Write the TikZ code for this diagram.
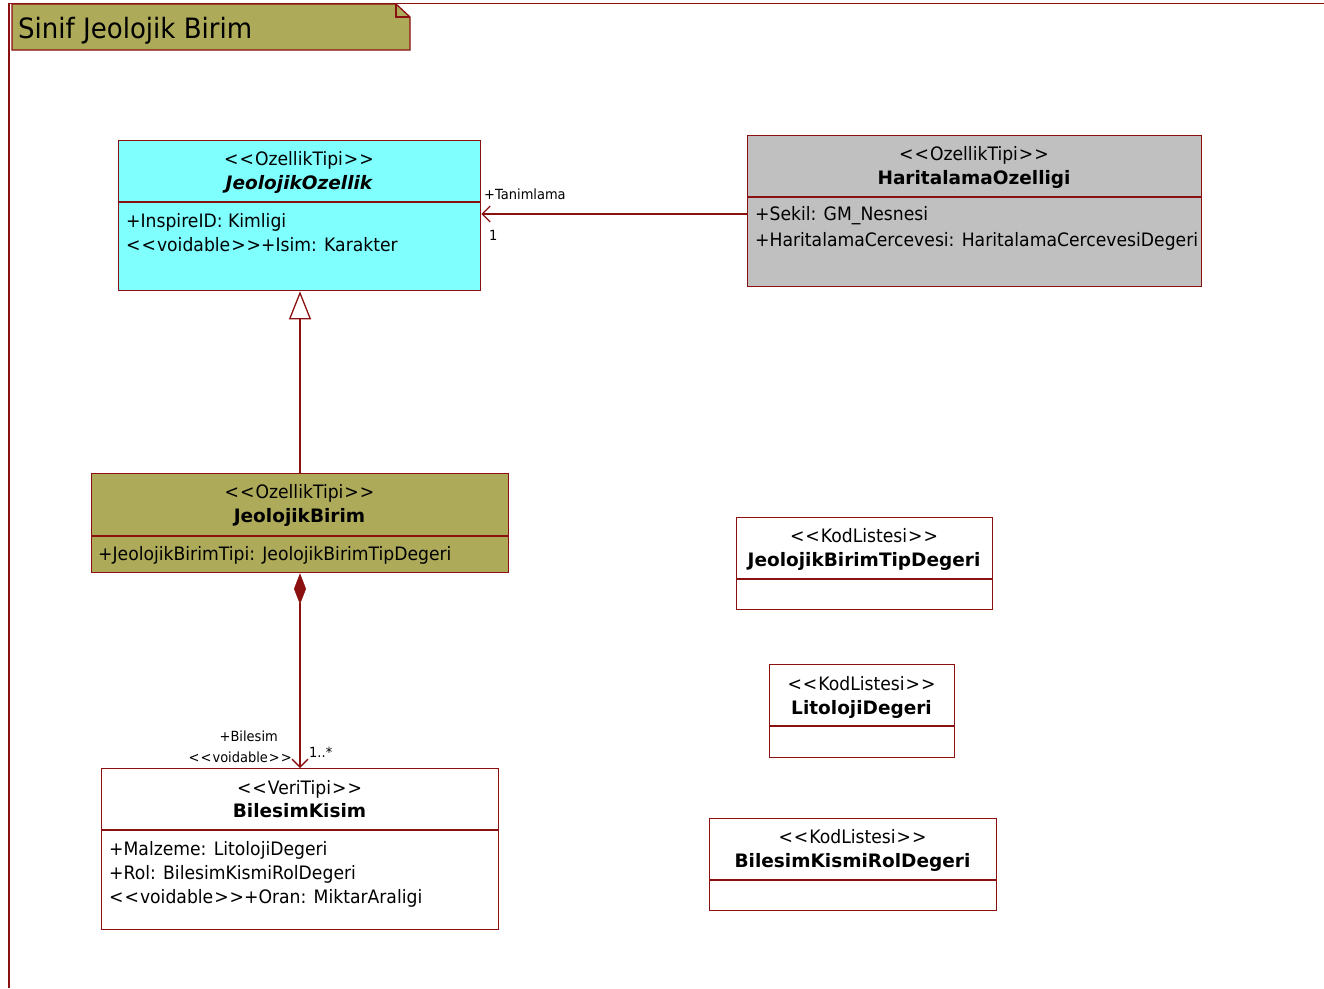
\documentclass[tikz,border=0pt]{standalone}
\usepackage{fontspec}
\setmainfont{DejaVu Sans}[FakeStretch=0.93]
\newfontfamily\bfam{DejaVu Sans}[FakeStretch=1.0]
\usetikzlibrary{arrows.meta}
\definecolor{lc}{RGB}{139,16,16}
\definecolor{olive}{RGB}{173,170,90}
\definecolor{cyanf}{RGB}{128,255,255}
\definecolor{grayf}{RGB}{192,192,192}
\newcommand\stL{<\kern1pt<\kern1pt}
\newcommand\stR{\kern1pt>\kern1pt>}
\tikzset{
  cls/.style={draw=lc, line width=1.3pt, anchor=north west, inner sep=0pt},
  sep/.style={draw=lc, line width=1.3pt},
  txt/.style={inner sep=0pt, anchor=base, font=\fontsize{18.5}{21}\selectfont},
  bold/.style={txt, font=\fontsize{18.5}{21}\bfam\bfseries},
  attr/.style={txt, anchor=base west},
  small/.style={inner sep=0pt, anchor=base west, font=\fontsize{14}{16}\selectfont},
  conn/.style={draw=lc, line width=1.3pt},
}
\begin{document}
\begin{tikzpicture}[x=1pt,y=-1pt]
\useasboundingbox (0,0) rectangle (1324,988);
% frame
\draw[lc, line width=1.3pt] (9,988) -- (9,3.5) -- (1324,3.5);
% title tab
\fill[olive] (12,4) -- (396,4) -- (410,17) -- (410,50) -- (12,50) -- cycle;
\draw[lc, line width=1.3pt] (12,4) -- (396,4) -- (410,17) -- (410,50) -- (12,50) -- cycle;
\draw[lc, line width=1.3pt] (396,4) -- (396,17) -- (410,17);
\node[inner sep=0pt, anchor=base west, font=\fontsize{28}{30}\selectfont] (title) at (18,38) {Sinif Jeolojik Birim};

% JeolojikOzellik
\node[cls, fill=cyanf, minimum width=362, minimum height=150] (jo) at (118,140) {};
\draw[sep] (118,202) -- (480,202);
\node[txt] (jos) at (299,165) {\stL OzellikTipi\stR};
\node[bold, font=\fontsize{18.5}{21}\bfam\bfseries\itshape] (jon) at (299,189) {JeolojikOzellik};
\node[attr] (joa1) at (126,227) {+InspireID: Kimligi};
\node[attr] (joa2) at (126,251) {\stL voidable\stR+Isim: Karakter};

% HaritalamaOzelligi
\node[cls, fill=grayf, minimum width=454, minimum height=151] (ho) at (747,135) {};
\draw[sep] (747,197) -- (1201,197);
\node[txt] (hos) at (974,160) {\stL OzellikTipi\stR};
\node[bold] (hon) at (974,184) {HaritalamaOzelligi};
\node[attr] (hoa1) at (755,220) {+Sekil: GM\_Nesnesi};
\node[attr] (hoa2) at (755,246) {+HaritalamaCercevesi: HaritalamaCercevesiDegeri};

% JeolojikBirim
\node[cls, fill=olive, minimum width=417, minimum height=99] (jb) at (91,473) {};
\draw[sep] (91,536) -- (508,536);
\node[txt] (jbs) at (299.5,498) {\stL OzellikTipi\stR};
\node[bold] (jbn) at (299.5,522) {JeolojikBirim};
\node[attr] (jba1) at (98,560) {+JeolojikBirimTipi: JeolojikBirimTipDegeri};

% BilesimKisim
\node[cls, fill=white, minimum width=397, minimum height=161] (bk) at (101,768) {};
\draw[sep] (101,830) -- (498,830);
\node[txt] (bks) at (299.5,794) {\stL VeriTipi\stR};
\node[bold] (bkn) at (299.5,817) {BilesimKisim};
\node[attr] (bka1) at (109,855) {+Malzeme: LitolojiDegeri};
\node[attr] (bka2) at (109,879) {+Rol: BilesimKismiRolDegeri};
\node[attr] (bka3) at (109,903) {\stL voidable\stR+Oran: MiktarAraligi};

% JeolojikBirimTipDegeri
\node[cls, fill=white, minimum width=256, minimum height=92] (jbt) at (736,517) {};
\draw[sep] (736,579) -- (992,579);
\node[txt] (jbts) at (864,542) {\stL KodListesi\stR};
\node[bold] (jbtn) at (864,566) {JeolojikBirimTipDegeri};

% LitolojiDegeri
\node[cls, fill=white, minimum width=185, minimum height=93] (ld) at (769,664) {};
\draw[sep] (769,726) -- (954,726);
\node[txt] (lds) at (861.5,690) {\stL KodListesi\stR};
\node[bold] (ldn) at (861.5,714) {LitolojiDegeri};

% BilesimKismiRolDegeri
\node[cls, fill=white, minimum width=287, minimum height=92] (bkr) at (709,818) {};
\draw[sep] (709,880) -- (996,880);
\node[txt] (bkrs) at (852.5,843) {\stL KodListesi\stR};
\node[bold] (bkrn) at (852.5,867) {BilesimKismiRolDegeri};

% association HaritalamaOzelligi -> JeolojikOzellik
\draw[conn, -{Straight Barb[length=8pt,width=16pt,line width=1.3pt]}] (ho.west |- 0,214) -- (jo.east |- 0,214);
\node[small] (lt) at (484,199) {+Tanimlama};
\node[small] (l1) at (489,240) {1};

% generalization
\draw[conn, -{Triangle[open,length=28pt,width=22pt,line width=1.3pt]}] (jb.north -| 300,0) -- (jo.south -| 300,0);

% composition
\draw[conn, {Diamond[length=31pt,width=12pt,line width=0.5pt]}-{Straight Barb[length=8pt,width=16pt,line width=1.3pt]}] (jb.south -| 300,0) -- (bk.north -| 300,0);
\node[small, anchor=base east] (lb1) at (278,741) {+Bilesim};
\node[small, anchor=base east] (lb2) at (292,762) {\stL voidable\stR};
\node[small] (lb3) at (309,757) {1..*};
\end{tikzpicture}
\end{document}
